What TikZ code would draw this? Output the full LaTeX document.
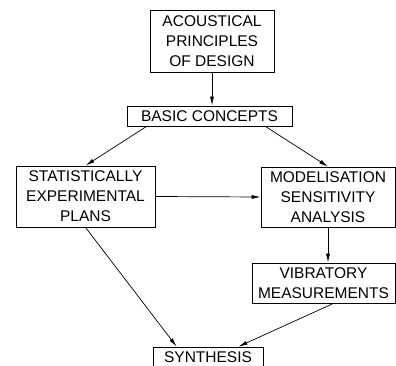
\documentclass[tikz,border=0pt]{standalone}
\usepackage{fontspec}
\setmainfont{Liberation Sans}
\usetikzlibrary{arrows.meta}

\begin{document}
\begin{tikzpicture}[
  x=1pt,y=1pt,
  box/.style={draw,line width=0.8pt,inner sep=0pt,align=center,
    font=\fontsize{15.5}{20}\selectfont},
  arr/.style={-{Latex[length=9pt,width=4pt]},line width=0.7pt}
]
\useasboundingbox (0,0) rectangle (396,366);
\node[box,minimum width=124,minimum height=62] (design) at (212,325) {ACOUSTICAL\\PRINCIPLES\\OF DESIGN};
\node[box,minimum width=165,minimum height=20] (basic) at (209.5,250) {BASIC CONCEPTS};
\node[box,minimum width=139,minimum height=61] (stat) at (85.5,169.5) {STATISTICALLY\\EXPERIMENTAL\\PLANS};
\node[box,minimum width=134,minimum height=60] (model) at (328,169) {MODELISATION\\SENSITIVITY\\ANALYSIS};
\node[box,minimum width=143,minimum height=40] (vib) at (323.5,83) {VIBRATORY\\MEASUREMENTS};
\node[box,minimum width=110,minimum height=20] (synth) at (208,9) {SYNTHESIS};
\draw[arr] (design.south) -- (design.south |- basic.north);
\draw[arr] ([xshift=20]basic.south west) -- (stat.north);
\draw[arr] ([xshift=-27]basic.south east) -- (model.north);
\draw[arr] (stat.east) -- (model.west);
\draw[arr] (model.south) -- (model.south |- vib.north);
\draw[arr] (stat.south) -- ([xshift=24]synth.north west);
\draw[arr] ([xshift=10]vib.south) -- ([xshift=-25]synth.north east);
\end{tikzpicture}
\end{document}
